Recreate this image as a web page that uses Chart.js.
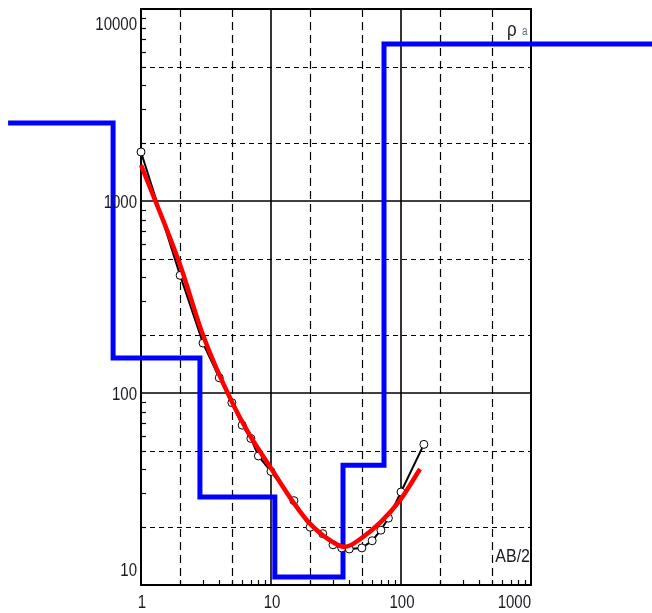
<!DOCTYPE html>
<html>
<head>
<meta charset="utf-8">
<script src="https://cdn.jsdelivr.net/npm/chart.js"></script>
<style>
  html, body { margin: 0; padding: 0; background: #fff; }
</style>
</head>
<body>
<canvas id="chart" width="652" height="613"></canvas>
<script>
// field sounding: AB/2 (m) against apparent resistivity
const abHalf = [1, 2, 3, 4, 5, 6, 7, 8, 10, 15, 20, 25, 30, 35, 40, 50, 60, 70, 80, 100, 150];
const rhoA = [1800, 410, 182, 120, 89, 68, 58, 47, 39, 27.5, 20, 18.5, 16.2, 15.6, 15.4, 15.6, 17, 19.3, 22.3, 30.5, 54];

// fitted model response (red)
const modelAB = [1, 2, 3, 5, 7, 10, 15, 20, 30, 37, 50, 70, 100, 140];
const modelRho = [1540, 464, 200, 90, 59, 40.6, 26.7, 20.8, 16.7, 15.8, 17.6, 21.3, 28.1, 40.2];

// layered model (blue): layer boundaries and layer resistivities
const layerBounds = [0.095, 0.61, 2.84, 10.7, 35.8, 74, 8540];
const layerRho = [2550, 152, 28.7, 11, 42, 6580];

// axis decorations
const xTickVals = [1, 10, 100, 1000];
const xTickText = ['1', '10', '100', '1000'];
const yTickVals = [10, 100, 1000, 10000];
const yTickText = ['10', '100', '1000', '10000'];
const xGridDashed = [2, 5, 20, 50, 200, 500];
const xGridSolid = [10, 100];
const yGridDashed = [20, 50, 200, 500, 2000, 5000];
const yGridSolid = [100, 1000];

const layerPts = [];
layerRho.forEach((r, i) => {
    layerPts.push({x: layerBounds[i], y: r});
    layerPts.push({x: layerBounds[i + 1], y: r});
});

function minorTicks(from, to) {
    const out = [];
    for (let d = from; d < to; d *= 10) {
        for (let k = 2; k <= 9; k++) out.push(k * d);
    }
    return out;
}

function stretchedText(ctx, text, x, y, sy) {
    ctx.save();
    ctx.translate(x, y);
    ctx.scale(1, sy);
    ctx.fillText(text, 0, 0);
    ctx.restore();
}

const framePlugin = {
    id: 'frame',
    beforeDatasetsDraw(chart) {
        const {ctx, chartArea: a, scales: {x, y}} = chart;
        const line = (x1, y1, x2, y2) => {
            ctx.beginPath();
            ctx.moveTo(x1, y1);
            ctx.lineTo(x2, y2);
            ctx.stroke();
        };
        ctx.save();
        ctx.strokeStyle = '#000';
        ctx.lineWidth = 1.2;
        ctx.setLineDash([8, 5]);
        xGridDashed.forEach(v => {
            const px = Math.round(x.getPixelForValue(v)) + 0.5;
            line(px, a.top, px, a.bottom);
        });
        ctx.setLineDash([5, 4]);
        yGridDashed.forEach(v => {
            const py = Math.round(y.getPixelForValue(v)) + 0.5;
            line(a.left, py, a.right, py);
        });
        ctx.setLineDash([]);
        ctx.lineWidth = 1.6;
        xGridSolid.forEach(v => {
            const px = x.getPixelForValue(v);
            line(px, a.top, px, a.bottom);
        });
        yGridSolid.forEach(v => {
            const py = y.getPixelForValue(v);
            line(a.left, py, a.right, py);
        });
        ctx.lineWidth = 1.2;
        minorTicks(1, 1000).forEach(v => {
            const px = Math.round(x.getPixelForValue(v)) + 0.5;
            line(px, a.bottom, px, a.bottom - 5);
        });
        minorTicks(10, 10000).forEach(v => {
            const py = Math.round(y.getPixelForValue(v)) + 0.5;
            line(a.left, py, a.left + 5, py);
        });
        ctx.lineWidth = 2;
        ctx.strokeRect(a.left, a.top, a.right - a.left, a.bottom - a.top);
        ctx.restore();
    },
    afterDraw(chart) {
        const {ctx, chartArea: a, scales: {x, y}} = chart;
        ctx.save();
        ctx.fillStyle = '#1b1b22';
        ctx.font = '15px "Liberation Sans"';
        ctx.textBaseline = 'middle';
        ctx.textAlign = 'right';
        yTickVals.forEach((v, i) => {
            let py = y.getPixelForValue(v) + 2;
            py = Math.min(Math.max(py, a.top + 16), a.bottom - 14);
            stretchedText(ctx, yTickText[i], a.left - 4, py, 1.25);
        });
        xTickVals.forEach((v, i) => {
            const px = x.getPixelForValue(v);
            if (i === xTickVals.length - 1) {
                ctx.textAlign = 'right';
                stretchedText(ctx, xTickText[i], a.right, a.bottom + 18, 1.25);
            } else {
                ctx.textAlign = 'center';
                stretchedText(ctx, xTickText[i], px + 1, a.bottom + 18, 1.25);
            }
        });
        // axis names inside the frame
        ctx.textBaseline = 'alphabetic';
        ctx.textAlign = 'right';
        ctx.font = '16px "Liberation Sans"';
        stretchedText(ctx, 'AB/2', a.right - 1, a.bottom - 23, 1.2);
        ctx.textAlign = 'left';
        ctx.font = '17px "Liberation Sans"';
        stretchedText(ctx, 'ρ', a.right - 24, a.top + 27, 1.2);
        ctx.fillStyle = '#5a6b80';
        ctx.font = '10px "Liberation Sans"';
        stretchedText(ctx, 'a', a.right - 9, a.top + 26, 1.2);
        ctx.restore();
    }
};

new Chart(document.getElementById('chart'), {
    type: 'line',
    data: {
        datasets: [{
            data: modelAB.map((v, i) => ({x: v, y: modelRho[i]})),
            borderColor: '#ff0000',
            borderWidth: 4.5,
            pointRadius: 0,
            cubicInterpolationMode: 'monotone',
            fill: false
        }, {
            data: abHalf.map((v, i) => ({x: v, y: rhoA[i]})),
            borderColor: '#000',
            borderWidth: 2,
            pointRadius: 4,
            pointBackgroundColor: '#fff',
            pointBorderColor: '#000',
            pointBorderWidth: 1,
            fill: false
        }, {
            data: layerPts,
            borderColor: '#0000ff',
            borderWidth: 5,
            pointRadius: 0,
            borderJoinStyle: 'miter',
            fill: false,
            clip: false
        }]
    },
    options: {
        responsive: false,
        animation: false,
        layout: { padding: { left: 141, right: 121, top: 9, bottom: 28 } },
        plugins: { legend: { display: false }, tooltip: { enabled: false } },
        scales: {
            x: {
                type: 'logarithmic',
                display: false,
                bounds: 'data',
                afterDataLimits: (s) => { s.min = 1; s.max = 1000; }
            },
            y: {
                type: 'logarithmic',
                display: false,
                min: 10,
                max: 10000
            }
        }
    },
    plugins: [framePlugin]
});
</script>
</body>
</html>
